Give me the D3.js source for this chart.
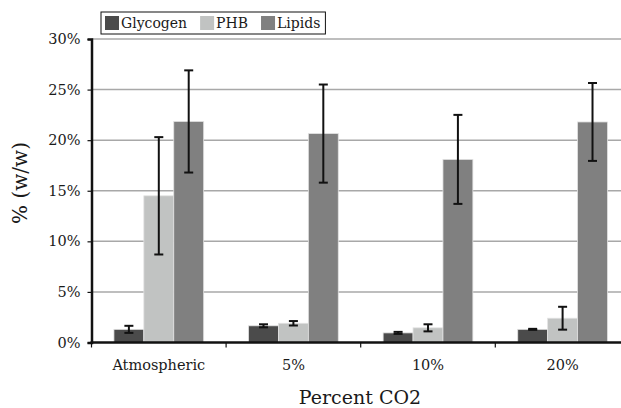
<!DOCTYPE html>
<html lang="en">
<head>
  <meta charset="UTF-8">
  <title>Percent CO2</title>
  <script src="https://d3js.org/d3.v7.min.js"></script>
  <style>
    body { margin: 0; background: #fff; }
    text { font-family: "DejaVu Serif", serif; fill: #1a1a1a; }
  </style>
</head>
<body>
  <svg></svg>
  <script>
    // data (percent w/w, +/- error)
    const categories = ["Atmospheric", "5%", "10%", "20%"];
    const seriesNames = ["Glycogen", "PHB", "Lipids"];
    const glycogen = [1.3, 1.65, 0.95, 1.3];
    const glycogenErr = [0.35, 0.15, 0.1, 0.05];
    const phb = [14.5, 1.9, 1.45, 2.4];
    const phbErr = [5.8, 0.22, 0.35, 1.13];
    const lipids = [21.85, 20.65, 18.1, 21.8];
    const lipidsErr = [5.05, 4.85, 4.4, 3.85];
    const yTicks = [0, 5, 10, 15, 20, 25, 30];

    const colors = ["#4b4b4b", "#c1c3c2", "#808080"];
    const values = [glycogen, phb, lipids];
    const errors = [glycogenErr, phbErr, lipidsErr];

    const width = 621, height = 408;
    const margin = { top: 39, left: 91.5, bottom: 65.5 };
    const step = 134.6;

    const svg = d3.select("svg")
      .attr("width", width)
      .attr("height", height);

    const x = d3.scaleBand()
      .domain(categories)
      .range([margin.left, margin.left + step * categories.length])
      .padding(0);

    const xInner = d3.scaleBand()
      .domain(seriesNames)
      .range([0, x.bandwidth()])
      .paddingInner(0)
      .paddingOuter(0.75);

    const y = d3.scaleLinear()
      .domain([0, 30])
      .range([height - margin.bottom, margin.top]);

    // gridlines
    svg.append("g")
      .selectAll("line")
      .data(yTicks.filter(d => d > 0))
      .enter().append("line")
      .attr("x1", margin.left)
      .attr("x2", width)
      .attr("y1", d => y(d))
      .attr("y2", d => y(d))
      .attr("stroke", "#a8a8a8")
      .attr("stroke-width", 1.5);

    // bars
    const rows = [];
    categories.forEach((c, i) => {
      seriesNames.forEach((s, j) => {
        rows.push({ cat: c, series: s, idx: j, v: values[j][i], e: errors[j][i] });
      });
    });

    svg.append("g")
      .selectAll("rect")
      .data(rows)
      .enter().append("rect")
      .attr("x", d => x(d.cat) + xInner(d.series))
      .attr("y", d => y(d.v))
      .attr("width", xInner.bandwidth())
      .attr("height", d => y(0) - y(d.v))
      .attr("fill", d => colors[d.idx])
      .attr("stroke", "#e2e2e2")
      .attr("stroke-width", 0.8);

    // error bars
    const err = svg.append("g")
      .attr("stroke", "#111")
      .attr("stroke-width", 2)
      .selectAll("g")
      .data(rows)
      .enter().append("g")
      .attr("transform", d => `translate(${x(d.cat) + xInner(d.series) + xInner.bandwidth() / 2},0)`);

    err.append("line")
      .attr("y1", d => y(d.v + d.e))
      .attr("y2", d => y(d.v - d.e));
    err.append("line")
      .attr("x1", -4.5).attr("x2", 4.5)
      .attr("y1", d => y(d.v + d.e))
      .attr("y2", d => y(d.v + d.e));
    err.append("line")
      .attr("x1", -4.5).attr("x2", 4.5)
      .attr("y1", d => y(d.v - d.e))
      .attr("y2", d => y(d.v - d.e));

    // y axis
    const yAxis = d3.axisLeft(y)
      .tickValues(yTicks)
      .tickFormat(d => d + "%")
      .tickSize(4)
      .tickPadding(7);

    svg.append("g")
      .attr("transform", `translate(${margin.left},0)`)
      .call(yAxis)
      .call(g => g.select(".domain").attr("stroke", "#111").attr("stroke-width", 2.5))
      .call(g => g.selectAll(".tick line").attr("stroke", "#111").attr("stroke-width", 1.2))
      .call(g => g.selectAll(".tick text")
        .attr("font-family", "DejaVu Serif")
        .attr("font-size", 14.5)
        .attr("fill", "#222"));

    // x axis
    const xAxis = d3.axisBottom(x)
      .tickSize(0)
      .tickPadding(17);

    const xg = svg.append("g")
      .attr("transform", `translate(0,${y(0)})`)
      .call(xAxis);
    xg.select(".domain").remove();
    xg.selectAll(".tick text")
      .attr("font-family", "DejaVu Serif")
      .attr("font-size", 14.5)
      .attr("fill", "#222");

    svg.append("line")
      .attr("x1", margin.left - 1)
      .attr("x2", width)
      .attr("y1", y(0))
      .attr("y2", y(0))
      .attr("stroke", "#111")
      .attr("stroke-width", 2.5);

    // category separators
    svg.append("g")
      .selectAll("line")
      .data(categories)
      .enter().append("line")
      .attr("x1", d => x(d))
      .attr("x2", d => x(d))
      .attr("y1", y(0))
      .attr("y2", y(0) + 5)
      .attr("stroke", "#111")
      .attr("stroke-width", 1.2);

    // axis titles
    svg.append("text")
      .attr("x", 360)
      .attr("y", 404)
      .attr("text-anchor", "middle")
      .attr("font-size", 19)
      .text("Percent CO2");

    svg.append("text")
      .attr("transform", "translate(27,183) rotate(-90)")
      .attr("text-anchor", "middle")
      .attr("font-size", 20)
      .text("% (w/w)");

    // legend
    const legend = svg.append("g");
    const box = legend.append("rect")
      .attr("x", 101).attr("y", 12)
      .attr("height", 22)
      .attr("fill", "#fff")
      .attr("stroke", "#111")
      .attr("stroke-width", 1);

    let lx = 105;
    seriesNames.forEach((s, i) => {
      legend.append("rect")
        .attr("x", lx).attr("y", 16)
        .attr("width", 14).attr("height", 14)
        .attr("fill", colors[i]);
      const t = legend.append("text")
        .attr("x", lx + 16)
        .attr("y", 28)
        .attr("font-size", 14)
        .text(s);
      lx += 16 + t.node().getComputedTextLength() + 13;
    });
    box.attr("width", lx - 13 + 5 - 101);
  </script>
</body>
</html>
